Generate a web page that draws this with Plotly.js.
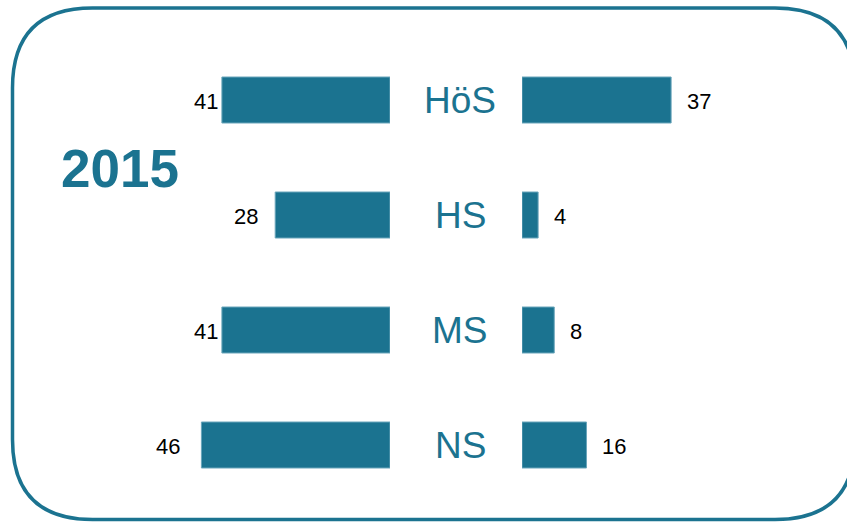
<!DOCTYPE html>
<html>
<head>
<meta charset="utf-8">
<script src="https://cdn.plot.ly/plotly-3.0.1.min.js"></script>
<style>html,body{margin:0;padding:0;background:#fff;}#chart{width:847px;height:522px;}</style>
</head>
<body>
<div id="chart"></div>
<script>
// Data
const categories = ['HöS', 'HS', 'MS', 'NS'];
const leftValues = [41, 28, 41, 46];
const rightValues = [37, 4, 8, 16];
const yearLabel = '2015';

const W = 847, H = 522;
const teal = '#1b7390';
const font = 'Liberation Sans, Arial, sans-serif';

// Pixel layout helpers
const leftEnd = 390, rightStart = 522;
const leftScale = 4.1, rightScale = 4.03;
const rowTop = 100, rowStep = 115;

function barTrace(vals, xaxis) {
  return {
    type: 'bar', orientation: 'h',
    y: categories, x: vals,
    xaxis: xaxis, yaxis: 'y',
    width: 0.4,
    marker: {color: teal, line: {color: '#6aa6bb', width: 1}},
    hoverinfo: 'none'
  };
}

// Rounded border path in pixels -> paper coords
const bx0 = 12.5, by0 = 8, bx1 = 855, by1 = 519.5, r = 80;
function px(x){ return (x / W).toFixed(5); }
function py(y){ return (1 - y / H).toFixed(5); }
const path = [
  'M', px(bx0 + r), py(by0),
  'L', px(bx1 - r), py(by0),
  'Q', px(bx1), py(by0), px(bx1), py(by0 + r),
  'L', px(bx1), py(by1 - r),
  'Q', px(bx1), py(by1), px(bx1 - r), py(by1),
  'L', px(bx0 + r), py(by1),
  'Q', px(bx0), py(by1), px(bx0), py(by1 - r),
  'L', px(bx0), py(by0 + r),
  'Q', px(bx0), py(by0), px(bx0 + r), py(by0), 'Z'
].join(' ');

const annotations = categories.map(c => ({
  x: 460 / W, xref: 'paper', y: c, yref: 'y',
  text: c, showarrow: false, xanchor: 'center', yanchor: 'middle',
  font: {family: font, size: 37, color: teal}
}));
// value labels
categories.forEach((c, i) => {
  const lv = leftValues[i];
  annotations.push({
    x: lv, xref: 'x', y: c, yref: 'y', text: String(lv), showarrow: false,
    xanchor: 'right', yanchor: 'middle', xshift: (lv === 41 ? -2 : (lv > 41 ? -19 : -15)),
    yshift: -1,
    font: {family: font, size: 22, color: '#000'}
  });
  const rv = rightValues[i];
  annotations.push({
    x: rv, xref: 'x2', y: c, yref: 'y', text: String(rv), showarrow: false,
    xanchor: 'left', yanchor: 'middle', xshift: 14, yshift: -1,
    font: {family: font, size: 22, color: '#000'}
  });
});
annotations.push({
  x: 120 / W, xref: 'paper', y: 1 - 168 / H, yref: 'paper',
  text: '<b>' + yearLabel + '</b>', showarrow: false,
  xanchor: 'center', yanchor: 'middle',
  font: {family: font, size: 53, color: teal}
});

const layout = {
  width: W, height: H,
  margin: {l: 0, r: 0, t: 0, b: 0},
  paper_bgcolor: '#fff', plot_bgcolor: 'rgba(0,0,0,0)',
  showlegend: false,
  xaxis: {domain: [0, leftEnd / W], range: [leftEnd / leftScale, 0],
          visible: false, fixedrange: true},
  xaxis2: {domain: [rightStart / W, 1], range: [0, (W - rightStart) / rightScale],
           visible: false, fixedrange: true},
  yaxis: {type: 'category', categoryorder: 'array', categoryarray: categories,
          range: [(H - rowTop) / rowStep, -rowTop / rowStep],
          visible: false, fixedrange: true},
  shapes: [{type: 'path', xref: 'paper', yref: 'paper', path: path,
            line: {color: teal, width: 3.5}, fillcolor: 'rgba(0,0,0,0)', layer: 'below'}],
  annotations: annotations
};

Plotly.newPlot('chart', [barTrace(leftValues, 'x'), barTrace(rightValues, 'x2')], layout,
  {displayModeBar: false, staticPlot: true});
</script>
</body>
</html>
